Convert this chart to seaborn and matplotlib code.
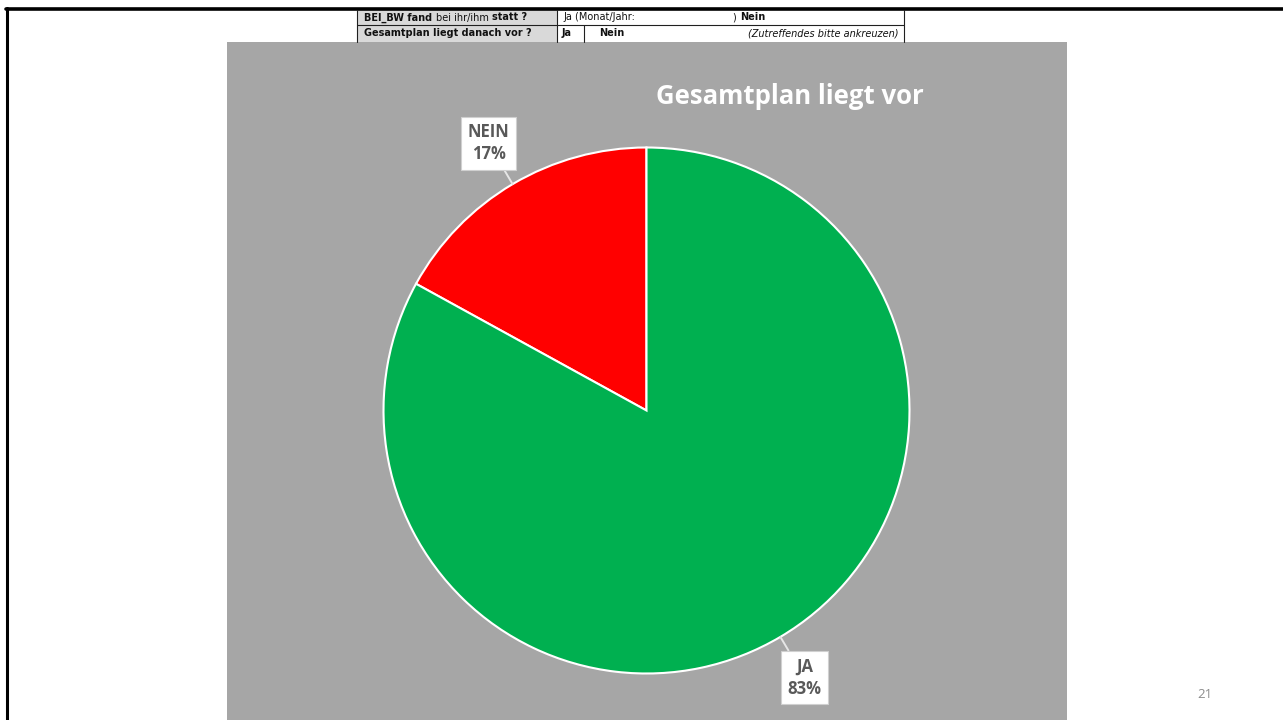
import numpy as np
import matplotlib
matplotlib.use("Agg")
import matplotlib.pyplot as plt
import seaborn as sns
from matplotlib.patches import Rectangle

# ---- data ----
categories = ["NEIN", "JA"]
shares = [17, 83]
colors = ["#FF0000", "#00B050"]
title = "Gesamtplan liegt vor"
page_number = "21"

sns.set_theme(style="white")
plt.rcParams['font.family'] = ['Open Sans', 'DejaVu Sans']

W, H = 1283, 720
fig = plt.figure(figsize=(W / 100, H / 100), dpi=100)
fig.patch.set_facecolor("white")
renderer = fig.canvas.get_renderer()

def fx(x):
    return x / W

def fy(y):
    return 1 - y / H

# slide frame lines
fig.add_artist(plt.Line2D([fx(6), fx(1283)], [fy(9), fy(9)], color="black", lw=2.6))
fig.add_artist(plt.Line2D([fx(7), fx(7)], [fy(8), fy(720)], color="black", lw=2.2))

# gray panel
fig.add_artist(Rectangle((fx(227), 0), fx(1067) - fx(227), fy(42), facecolor="#A6A6A6",
                         edgecolor="none", transform=fig.transFigure, zorder=0))

# form table at top
tl, tr, tt, tm, tb = 357, 904, 10, 24.5, 42
fig.add_artist(Rectangle((fx(tl), fy(tb)), fx(557) - fx(tl), fy(tt) - fy(tb), facecolor="#D9D9D9",
                         edgecolor="none", transform=fig.transFigure, zorder=1))
lc = "#202020"
for (x0, y0, x1, y1) in [(tl, tt, tl, tb), (tr, tt, tr, tb), (tl, tm, tr, tm),
                         (557, tt, 557, tb), (584, tm, 584, tb)]:
    fig.add_artist(plt.Line2D([fx(x0), fx(x1)], [fy(y0), fy(y1)], color=lc, lw=0.8, zorder=2))

tfs = 7.0
def chain(x, y, parts):
    for s, wgt, sty in parts:
        t = fig.text(fx(x), fy(y), s, fontsize=tfs, family=['DejaVu Sans'], va="center",
                     color="#111111", fontweight=wgt, style=sty, zorder=3)
        x += t.get_window_extent(renderer).width
    return x

chain(364, 17.5, [("BEI_BW fand ", "bold", "normal"), ("bei ihr/ihm ", "normal", "normal"),
                  ("statt ?", "bold", "normal")])
chain(563, 17.5, [("Ja (Monat/Jahr:", "normal", "normal")])
chain(733, 17.5, [(") ", "normal", "normal"), ("Nein", "bold", "normal")])
chain(364, 33.5, [("Gesamtplan liegt danach vor ?", "bold", "normal")])
chain(562, 33.5, [("Ja", "bold", "normal")])
chain(599, 33.5, [("Nein", "bold", "normal")])
fig.text(fx(898), fy(33.5), "(Zutreffendes bitte ankreuzen)", style="italic", ha="right",
         fontsize=tfs, family=['DejaVu Sans'], va="center", color="#111111", zorder=3)

# pie axes
cx, cy, R = 646.5, 410.5, 263
ax = fig.add_axes([fx(cx - R), fy(cy + R), 2 * R / W, 2 * R / H])
ax.set_facecolor("none")
wedges, _ = ax.pie(shares, colors=colors, startangle=90, counterclock=True,
                   wedgeprops=dict(edgecolor="white", linewidth=1.5), radius=1.0)
ax.set_xlim(-1, 1)
ax.set_ylim(-1, 1)
ax.set_aspect("equal")
ax.axis("off")

for w, cat, s in zip(wedges, categories, shares):
    ang = np.deg2rad((w.theta1 + w.theta2) / 2)
    xy = (np.cos(ang) * 1.0, np.sin(ang) * 1.0)
    xt = (np.cos(ang) * 1.18, np.sin(ang) * 1.18)
    ax.annotate(f"{cat}\n{s}%", xy=xy, xytext=xt, ha="center", va="center",
                fontsize=12, fontweight="bold", color="#595959", linespacing=1.3,
                bbox=dict(boxstyle="square,pad=0.4", facecolor="white", edgecolor="#D0D0D0", lw=0.8),
                arrowprops=dict(arrowstyle="-", color="#E6E6E6", lw=1.4, shrinkA=0, shrinkB=0),
                annotation_clip=False)

fig.text(fx(790), fy(97), title, fontsize=18.5, fontweight="bold", color="white",
         ha="center", va="center")
fig.text(fx(1205), fy(695), page_number, fontsize=9.5, color="#8C8C8C", ha="center", va="center")

fig.savefig("out.png", dpi=100, facecolor="white")
